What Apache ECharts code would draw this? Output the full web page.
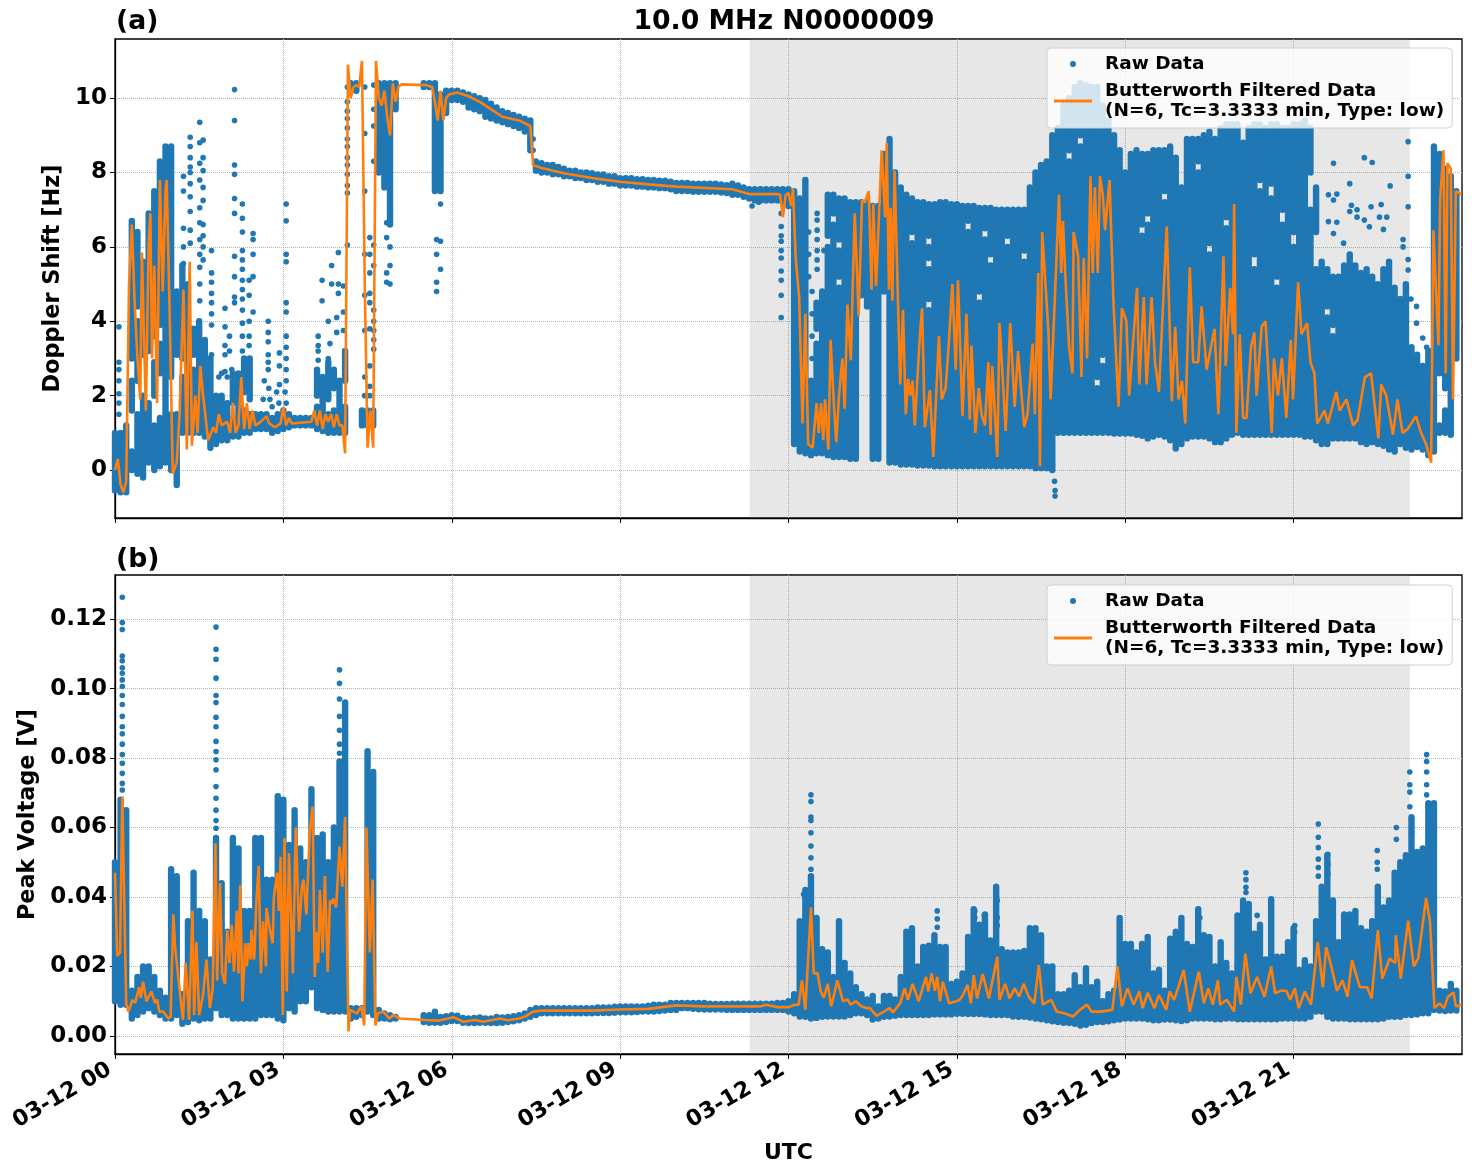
<!DOCTYPE html>
<html>
<head>
<meta charset="utf-8">
<title>10.0 MHz N0000009</title>
<script src="https://cdn.jsdelivr.net/npm/echarts@6/dist/echarts.min.js"></script>
<style>html,body{margin:0;padding:0;background:#fff}#chart{width:1472px;height:1172px}</style>
</head>
<body>
<div id="chart"></div>
<script>
// Axis ticks
const xTickHours = [0, 3, 6, 9, 12, 15, 18, 21];
const xTickLabels = ['03-12 00', '03-12 03', '03-12 06', '03-12 09', '03-12 12', '03-12 15', '03-12 18', '03-12 21'];
const dopplerTicks = [0, 2, 4, 6, 8, 10];
const voltageTicks = [0, 0.02, 0.04, 0.06, 0.08, 0.1, 0.12];
const nightStart = 11.31, nightEnd = 23.07;

// Extent of the dense raw cloud in six-minute columns (Hz); null = no samples
const dopplerLow = [
-.55,-.6,-.6,0,-.1,-.2,.2,0,.1,.2, 0,-.4,1,1,1,1,.9,.6,.7,.8,
.8,.9,.9,1,1,1.1,1.1,1.1,1,1.05, 1.1,1.15,1.2,1.2,1.2,1.2,1.1,1.05,1,1,
1,1,10.2,10.2,1.2,1.2,1.2,8,7.6,6.6, 9.7,null,null,null,null,10.3,10.3,7.5,7.5,9.6,
9.95,9.95,9.9,9.75,9.7,9.65,9.5,9.45,9.4,9.35, 9.3,9.25,9.2,9.1,8.6,8.05,8,8,7.95,7.95,
7.9,7.9,7.85,7.85,7.8,7.8,7.75,7.75,7.7,7.7, 7.65,7.65,7.65,7.62,7.62,7.6,7.6,7.58,7.58,7.55,
7.5,7.5,7.5,7.48,7.48,7.48,7.48,7.48,7.46,7.45, 7.4,7.4,7.35,7.3,7.25,7.25,7.25,7.25,7.25,7.2,
7.1,.7,.5,.45,.4,.45,.45,.4,.35,.35, .35,.3,.3,4.7,4.4,.3,.3,4.8,.2,.2,
.15,.15,.15,.12,.12,.12,.1,.1,.1,.1, .1,.1,.1,.1,.1,.1,.1,.1,.1,.1,
.1,.1,.1,.1,.05,.05,.05,0,1,1, 1,1,1,1,1,1,1,1,.98,.98,
.98,.98,.95,.92,.85,.9,.95,.9,.8,.58, .7,.85,.9,.9,.9,.85,.75,.75,.85,.95,
1,.95,.95,.95,.95,.95,.95,.95,.95,.95, .95,.95,.9,.9,.8,.7,.7,.85,.85,.85,
.85,.85,.75,.7,.75,.7,.65,.55,.5,.7, .6,.55,.62,.55,.4,.5,1,1,.95,3
];
const dopplerHigh = [
1,1,1.2,6.7,6.4,5.6,6.9,7.5,8.3,8.7, 8.7,4.8,5.5,5,3.8,4,3.5,3,2,2,
1.8,2.6,2.6,3,3,1.5,1.5,1.5,1.4,1.5, 1.6,1.5,1.4,1.4,1.4,1.4,2.7,2.5,2.9,2.7,
2.4,3.2,10.4,10.4,1.6,1.6,1.6,10.4,10.4,10.4, 10.4,null,null,null,null,10.4,10.4,10.4,10.1,10.2,
10.2,10.2,10.15,10.1,10.05,10,9.95,9.85,9.75,9.65, 9.6,9.55,9.5,9.45,9.4,8.3,8.25,8.2,8.2,8.15,
8.1,8.05,8.05,8,8,7.98,7.95,7.95,7.9,7.9, 7.85,7.85,7.85,7.82,7.82,7.8,7.8,7.78,7.78,7.75,
7.72,7.72,7.72,7.7,7.7,7.7,7.7,7.7,7.68,7.66, 7.7,7.65,7.6,7.55,7.55,7.55,7.55,7.55,7.55,7.55,
7.55,7.5,7.3,7.8,2.4,4.5,4.8,7.4,7.4,7.3, 7.3,7.2,7.2,7.2,7.2,7.1,7.1,8.5,8.9,8,
7.6,7.4,7.3,7.2,7.2,7.15,7.15,7.2,7.2,7.15, 7.15,7.1,7.1,7.1,7.05,7.05,7.05,7,7,7,
7,7,7,7.6,8,8.2,8.3,9,9.2,9.8, 10,10.3,10.4,10.35,10.3,10.3,9.8,9.4,9,8.6,
8,8.5,8.6,8.5,8.5,8.6,8.6,8.6,8.7,8.4, 7.6,8.9,8.9,8.9,9,9.1,8.9,9.2,9.3,9.3,
9.3,8.8,9.2,9.3,9.3,9.2,9.3,9.3,9.2,9.2, 9.3,9.3,9.4,9.2,7.6,5.6,5.4,5.2,5.2,5.5,
5.8,5.5,5.3,5.4,5.2,5,5.4,5.6,4.9,4.6, 5,3.3,3.1,2.8,3.2,8.7,8.5,8.1,7.9,7.5
];
// Columns with an empty stretch inside the cloud: [tenths of an hour, from, to]
const dopplerGaps = [
[3,.5,1.6],[3,2.4,3],[4,1.5,2.4],[4,4,4.4],[5,2,3.1],[6,1.8,3.2],[7,1.2,2],[7,2.9,3.6],[8,1.4,2.6],[8,3.4,3.9],
[10,1.5,2.5],[11,1.5,3.1],[12,2.5,3],[14,2.7,3.1],[125,3.4,3.8],[129,5.9,6.2],[129,4.9,5.2],[128,6.6,6.9],[142,6.1,6.4],
[145,6,6.3],[145,5.4,5.7],[145,4.3,4.6],[152,6.4,6.7],[155,6.2,6.5],[156,5.5,5.8],[154,4.5,4.8],[162,5.6,5.9],[159,6,6.3],
[172,8.7,9],[170,8.3,8.6],[175,2.2,2.5],[176,2.8,3.1],[193,8,8.3],[187,7.2,7.5],[184,6.6,6.9],[183,6.3,6.6],[201,6,9],
[206,7.3,7.7],[204,7.5,7.8],[208,6.6,7],[207,4.9,5.2],[217,3.6,3.9],[216,4.1,4.4],[214,5.4,6.4],[213,7,8],[195,5.8,6.1],
[198,6.5,6.8],[203,5.4,5.8],[210,6,6.4],[236,1.2,2.6],[237,1.6,2.2],[127,6,6.3],[124,2.6,3.1],[134,1,1.4],[133,1.6,2],
[23,1.6,2.1],[24,1.5,1.9],[36,1.7,2],[38,1.5,1.9],[39,1.6,2.2],[41,1.7,2.4],[21,1.4,1.8]
];

// Isolated raw samples outside the cloud: [hour, Hz]
const dopplerDots = [
[2.13,10.23],[2.13,9.4],[2.13,8.2],[2.13,7.95],[2.13,7.3],[2.13,6.9],[2.13,5.75],[2.13,5.2],[2.13,4.65],[2.13,4.5],
[2.27,7.15],[2.27,6.77],[2.27,6.4],[2.27,5.9],[2.27,5.65],[2.27,5.4],[2.27,5.1],[2.27,4.85],[2.27,4.6],[2.27,4.3],[2.27,3.95],[2.27,3.6],[2.27,3.2],
[2.46,6.36],[2.46,6.2],[2.46,5.8],[2.46,5.2],[2.46,4.25],[2.39,5.1],[2.39,4.7],[2.39,4],[2.39,3.6],[2.39,3.35],
[2.73,4],[2.73,3.7],[2.73,3.45],[2.73,3.1],[2.73,2.9],[2.73,2.7],[2.93,3.15],[2.93,2.8],[2.93,2.3],
[2.64,1.9],[2.66,2.4],[2.74,2.2],[2.76,1.9],[2.8,1.7],[2.88,2.1],[2.92,1.8],
[3.05,7.15],[3.05,6.7],[3.05,5.8],[3.05,5.6],[3.05,4.5],[3.05,4.25],[3.05,3.6],[3.05,3.3],[3.05,3],[3.05,2.7],[3.05,2.4],[3.03,2.1],[3.05,1.8],
[1.96,4.35],[1.96,3.85],[1.96,3.35],[1.96,3.1],[1.96,2.65],[2.04,3.6],[2.04,3.2],[1.9,2.6],[1.85,2.5],[2,2.5],[2.08,2.7],
[1.72,5.9],[1.72,5.3],[1.72,5.05],[1.72,4.75],[1.72,4.5],[1.72,4.2],[1.72,3.9],[1.72,3.1],
[1.57,8.87],[1.57,8.4],[1.57,8.05],[1.57,7.6],[1.57,7.25],[1.57,6.6],[1.57,6.3],[1.57,6],[1.57,5.65],
[1.51,9.35],[1.51,8.8],[1.51,8.25],[1.51,7.8],[1.51,7.05],[1.51,6.65],[1.51,6.2],[1.51,5.8],[1.51,5.45],[1.51,5],[1.51,4.55],
[1.34,8.95],[1.34,8.7],[1.34,8.4],[1.34,8.15],[1.34,8],[1.34,7.7],[1.34,7.35],[1.34,6.95],[1.34,6.45],[1.34,6.1],
[1.22,7.9],[1.22,7.5],[1.22,6.5],[1.22,6],[1.22,5.55],
[.07,3.85],[.07,2.9],[.07,2.7],[.07,2.4],[.07,2.05],[.07,1.8],[.07,1.5],
[3.62,3.6],[3.62,3.35],[3.62,3.2],[3.62,2.95],[3.69,5.1],[3.69,4.55],[3.86,5.5],[3.86,5],[3.98,5.85],[3.98,5],[3.98,4.75],
[4.07,4.95],[4.07,4.25],[4.07,3.75],[3.8,4],[3.8,3],[3.95,4.1],[3.95,3.7],[3.83,3.4],
[4.14,10.3],[4.14,9.9],[4.14,9.65],[4.14,9.45],[4.14,9.2],[4.14,8.9],[4.14,8.7],[4.14,8.4],[4.14,8.2],[4.14,7.95],[4.14,7.65],[4.14,7.45],[4.14,6.05],
[4.45,10.3],[4.45,9.05],[4.45,7.5],[4.45,5.8],[4.45,4.7],[4.45,3.75],[4.45,2.5],[4.45,2],
[4.54,6.25],[4.54,5.8],[4.54,5.3],[4.54,4.75],[4.54,4.5],[4.54,3.8],[4.54,2.8],[4.54,2.25],[4.54,2],
[4.61,6.05],[4.61,5.5],[4.61,4.3],[4.61,4],[4.61,3.75],[4.61,3.5],[4.61,3.25],[4.61,9.25],[4.61,8.3],[4.61,9.7],[4.61,10.35],
[4.84,5.3],[4.84,5.05],[4.84,6.65],[4.84,6.25],[4.9,5.5],[4.9,5],[4.9,6],
[5.73,6.2],[5.73,5.8],[5.73,5.05],[5.73,4.8],[5.8,6.15],[5.8,5.4],[5.8,7.15],
[7.45,8.9],[7.45,8.6],[11.35,7.1],[11.47,7.2],
[11.87,6.9],[11.87,6.55],[11.87,6.3],[11.87,6.15],[11.87,5.9],[11.87,5.7],[11.87,5.35],[11.87,5.1],[11.87,4.7],[11.87,4.1],
[12.51,6.9],[12.51,6.72],[12.51,6.45],[12.51,6.2],[12.51,5.9],[12.51,5.65],[12.51,5.4],[12.63,5.9],
[12.42,3],[12.42,3.6],[12.42,4.2],[12.42,4.8],[12.36,5.2],[12.36,5.8],[12.36,6.4],
[16.75,-.55],[16.75,-.7],[16.74,-.3],
[23.04,8.83],[23.04,7.9],[23.04,7.08],[21.71,8.25],[22.26,8.4],[22.4,8.27],[22,7.7],[22.72,7.64],[21.62,7.4],[21.77,7.42],[21.71,7.26],
[22.03,7.12],[22,6.95],[22.13,7],[22.13,6.8],[22.38,7.08],[22.26,6.72],[22.35,6.54],[22.56,7.14],[22.53,6.8],[22.66,6.8],[21.62,6.68],
[21.77,6.66],[21.71,6.36],[21.89,6.1],[22.6,6.47],[22.95,6.2],[22.95,6],[23.04,5.66],[23.04,5.38],[23.09,4.6],[23.19,4.4],[23.19,3.95],[23.3,3.55],[23.37,3.3]
];

// Low-pass filtered Doppler trace: [hour, Hz]
const dopplerFiltered = [
[0,0],[.05,.3],[.1,-.4],[.15,-.6],[.2,-.3],[.25,5],[.3,6.6],[.35,4.5],[.4,3],[.45,1.9],[.48,5.85],[.55,1.6],[.6,6.1],[.63,6.9],[.66,3],[.7,5.5],[.75,1.8],[.8,7.8],[.85,4.8],[.9,7.5],[.92,7.8],[.97,4.5],[1.03,-.1],[1.1,.2],[1.15,1.5],[1.22,4.85],[1.28,.55],[1.33,5.6],[1.37,.65],[1.43,2],[1.47,1],[1.52,2.8],[1.57,2],[1.66,.8],[1.75,1.15],[1.8,1],[1.85,1.5],[1.9,1.2],[2,1.3],[2.05,1],[2.1,1.8],[2.15,1],[2.2,1.2],[2.25,2.5],[2.3,1.1],[2.35,1.8],[2.4,1.1],[2.45,1.6],[2.5,1.2],[2.6,1.3],[2.7,1.45],[2.75,1.25],[2.85,1.15],[2.95,1.25],[3,1.7],[3.05,1.2],[3.1,1.4],[3.15,1.25],[3.5,1.3],[3.55,1.6],[3.6,1.2],[3.65,1.6],[3.7,1.1],[3.75,1.5],[3.8,1.3],[3.85,1.5],[3.9,1.15],[3.95,1.5],[4,1.2],[4.05,1.2],[4.1,.45],[4.15,10.9],[4.2,10],[4.25,10.3],[4.3,10.35],[4.35,10.3],[4.4,11],[4.45,5],[4.5,.6],[4.55,1.6],[4.6,.6],[4.65,11],[4.7,10],[4.75,9.8],[4.8,10.2],[4.85,9.5],[4.9,9],[4.95,10.4],[5,9.9],[5.05,10.3],[5.1,10.37],[5.55,10.35],[5.65,10.3],[5.7,9.9],[5.75,9.4],[5.8,10.2],[5.85,9.4],[5.9,10],[5.95,10.1],[6.1,10.15],[6.3,10.05],[6.5,9.9],[6.75,9.65],[6.9,9.5],[7.2,9.4],[7.4,9.25],[7.45,8.2],[7.6,8.12],[8,7.98],[8.5,7.85],[9,7.75],[9.5,7.68],[10,7.62],[11,7.55],[11.3,7.42],[11.8,7.42],[11.85,7.4],[11.9,6.8],[11.95,7.4],[12,7.45],[12.05,7.1],
[12.08,7.57],[12.13,5.65],[12.19,4.65],[12.25,1.25],[12.3,4.2],[12.35,.7],[12.43,.6],[12.5,1.8],[12.54,1],[12.58,1.8],[12.62,.8],[12.65,1.9],[12.71,.55],[12.75,3.5],[12.8,2],[12.85,.75],[12.9,2],[12.96,3],[13,1.65],[13.05,4.45],[13.11,2.95],[13.18,6.9],[13.25,4.15],[13.31,7.25],[13.36,7.2],[13.43,7.5],[13.48,4.85],[13.51,7.15],[13.56,4.95],[13.66,8.6],[13.72,6.8],[13.75,8.8],[13.79,4.85],[13.82,7.05],[13.85,4.55],[13.89,8.05],[13.99,2.3],[14.04,4.3],[14.09,1.5],[14.13,2.45],[14.17,2],[14.21,2.4],[14.25,1.2],[14.34,3.6],[14.38,4.35],[14.43,1.15],[14.52,2.15],[14.58,.35],[14.68,3.6],[14.73,1.9],[14.8,2.2],[14.86,3.5],[14.92,5],[14.98,2.7],[15.02,5.1],[15.1,1.45],[15.17,4.2],[15.23,1.35],[15.26,3.35],[15.33,1],[15.39,2.2],[15.44,1.5],[15.5,1.2],[15.56,2.9],[15.6,.95],[15.63,2.8],[15.72,.35],[15.76,3.95],[15.87,1.05],[15.95,3.95],[16.03,1.7],[16.09,3.2],[16.2,1.15],[16.26,1.5],[16.35,3.4],[16.39,1.5],[16.45,5.3],[16.48,.1],[16.52,6.4],[16.63,3.75],[16.67,1.9],[16.74,4.4],[16.82,7.4],[16.86,5.3],[16.89,6.7],[16.93,5.3],[17,3.3],[17.06,2.6],
[17.08,6.4],[17.16,5.75],[17.22,2.5],[17.26,5.7],[17.32,3],[17.38,7.9],[17.42,5.3],[17.46,7.6],[17.51,5.3],[17.55,7.9],[17.6,7.4],[17.64,6.45],[17.72,7.8],[17.79,4.5],[17.88,1.7],[17.94,4.35],[18.02,4],[18.07,2],[18.21,4.9],[18.25,2.3],[18.33,4.65],[18.38,2.3],[18.47,4.65],[18.53,2.9],[18.6,2.1],[18.74,6.55],[18.83,1.85],[18.89,3.85],[18.95,1.9],[19.01,2.4],[19.07,1.25],[19.15,5.45],[19.21,2.9],[19.3,2.9],[19.36,4.4],[19.45,2.7],[19.59,3.8],[19.66,1.5],[19.75,5.75],[19.79,2.8],[19.87,4.9],[19.92,3.65],[19.94,7.15],[19.98,1],[20.04,3.65],[20.1,1.4],[20.16,1.4],[20.24,3.3],[20.3,3.7],[20.34,2],[20.43,3.85],[20.5,4],[20.61,1],[20.65,3],[20.72,2],[20.79,3],[20.87,1.4],[20.95,3.5],[20.99,1.9],[21.08,5.05],[21.14,3.65],[21.24,3.95],[21.3,2.9],[21.37,2.6],[21.42,1.25],[21.55,1.6],[21.61,1.25],[21.76,2.1],[21.82,1.6],[21.94,1.9],[22.06,1.2],[22.14,1.35],[22.27,2.5],[22.38,2.6],[22.51,.85],[22.56,2.3],[22.65,2],[22.77,.95],[22.85,1.9],[22.94,1],[23.03,1.1],[23.18,1.45],[23.27,1],[23.36,.7],[23.45,.2],[23.49,6.45],[23.58,3.35],[23.61,7.25],[23.67,8.6],[23.71,2.6],[23.74,8.25],[23.8,8.1],[23.84,1.9],[23.89,7.5],[23.95,7.45],[23.99,7.4]
];

// Extent of the dense raw voltage cloud in six-minute columns (mV); null = no samples
const voltageLow = [
10,9,9,5,6,7,8,7,6,5, 5,6,3.5,4,5,4.5,5,5,8,6, 6,5,5,5,5,5,6,6,6,5, 4.5,8,7,10,10,14,8,7.5,7,7,
7,7,5,5.5,6,7,6,5,5,4.8, 5,null,null,null,null,4,3.8,3.8,3.8,4, 4.3,4.3,3.8,3.7,3.7,3.8,3.8,3.7,3.7,3.8, 4,4.2,4.5,5,5.5,6,6.5,6.5,6.5,6.5,
6.5,6.5,6.5,6.5,6.5,6.5,6.6,6.6,6.6,6.7, 6.8,6.8,6.8,6.9,7,7,7,7.2,7.3,7.5, 7.5,8,8,7.8,7.7,7.6,7.6,7.6,7.6,7.5, 7.5,7.5,7.5,7.5,7.5,7.5,7.5,7.5,7.5,7.5,
7,6.5,5.6,5.5,5,5.2,5.5,5.6,5.6,5.6, 5.6,6,6.5,6.5,6,4.7,5,5.5,5.6,5.8, 6,6,6,6,6,6,6.2,6.2,6.2,6.2, 6.4,6.4,6.3,6.3,6.3,6.2,6,6,6,6,
5.6,5.5,5.5,5.3,5,4.8,4.5,4.2,4,3.8, 3.7,3.5,3,3.2,3.7,4,4,4.2,4.5,4.7, 5,5,5,5,4.8,4.5,4.5,4.7,4.7,4.5, 4.3,4.5,5,5,5,5,4.8,4.8,5,5,
4.8,4.8,4.8,4.8,4.8,4.8,4.8,4.8,5,5, 5,5,5,5.5,7,7,5.5,5,5,5, 4.8,4.8,4.8,4.8,4.8,4.8,5,5.5,5.5,5.5, 6,6,6.2,6.5,6.5,7.5,7.3,7.2,7.3,7.3
];
const voltageHigh = [
50,68,65,13,17,20,20,17,13,11, 48,46,12,33,47,36,33,22,57,44, 30,57,54,36,36,57,57,45,45,69, 68,55,65,54,50,71,57,58,50,60,
79,96,8,8,8,82,76,7.5,6.5,6, 5.5,null,null,null,null,6,6,7,5.5,5.7, 6,5.8,5.2,5,5.2,5.3,5,5,5.5,5.3, 5.5,5.7,6,6.5,7.5,8,8,8,8,8,
8,8,8,8,8,8,8.2,8.2,8.2,8.4, 8.5,8.5,8.5,8.5,8.5,8.7,9,9,9,9.5, 9.5,9.5,9.5,9.5,9.5,9.5,9.3,9.2,9.2,9.2, 9.3,9.3,9.3,9.3,9.3,9.3,9.3,9.3,9.5,9.5,
10,12,33,42,46,34,25,24,17,33, 21,18,14,12,10.5,11.5,8.5,11.5,11.5,10.5, 17,30,31,20,25.6,26,29,25.6,25.6,15, 15.6,18,28.5,36.5,32,35,27.5,43,25,24,
24,24,24.5,31,31,29,20,20,12,12, 13,17.5,14,19.5,14,15.6,10,12,13,34, 26.5,26.5,24,26.5,28.5,18,19,13,28,30, 34,26.5,25.6,36.5,29,28.5,20,27,21,18,
34.7,39,38,29.4,32,22,39.4,22.8,22.8,27, 31,19,21.8,20,33,43,52,39,27,35, 35,36,31,30,33,43,37,39,47,50, 52,63,53,54,67,67,13,12.8,15,13
];

// Isolated raw voltage samples above the cloud: [hour, mV]
const voltageDots = [
[.13,126.3],[.13,119],[.13,117],[.13,109.4],[.13,108],[.13,106],[.13,104.4],[.13,102.5],[.13,100.6],[.13,98],[.13,95.4],[.13,92],[.13,89],[.13,87],[.13,84],[.13,81],[.13,78.5],[.13,75.6],[.13,72.7],[.13,70.8],
[1.8,117.7],[1.8,111.3],[1.8,108.4],[1.8,103],[1.8,98],[1.8,96],[1.8,91.7],[1.8,89],[1.8,84.8],[1.8,81.9],[1.8,79.5],[1.8,76.6],[1.8,71.8],[1.8,68.4],[1.8,65],[1.8,62],[1.8,59.8],
[4,105.4],[4,101.5],[4,97],[4,92],[4,88],[4,84],[4,81.4],
[12.4,69.4],[12.4,67.5],[12.4,63],[12.4,62],[12.4,58.5],[12.4,54.7],[12.4,51.3],[12.4,48],[12.27,40.8],
[14.65,36],[14.65,33.7],[14.65,31.3],[15.32,36],[15.32,34],[15.49,34.7],[15.72,39],[15.72,34],[15.72,31.8],[16.36,30.6],
[19.33,34],[20.15,47],[20.15,45],[20.15,42.8],[20.15,41.3],[20.35,34.7],[21.02,31.8],[21.02,30],
[21.44,61],[21.44,57.2],[21.44,54.2],[21.44,50.9],[21.44,48.5],[21.44,46],[21.61,52.3],[21.61,49.4],[21.61,46.6],
[22.49,53.4],[22.49,50],[22.49,48],[22.83,60],[22.83,56.6],[23.07,76],[23.07,72.3],[23.07,70.2],[23.07,66],[23.1,62.3],[23.1,58.5],
[23.37,81],[23.37,79],[23.37,76],[23.37,72.3],[23.37,69.4]
];

// Low-pass filtered voltage trace: [hour, mV]
const voltageFiltered = [
[0,47],[.04,23],[.09,24],[.13,69],[.16,43],[.2,9.4],[.24,7],[.27,7],[.31,10.4],[.36,9.5],[.43,14],[.46,11],[.5,15.6],[.56,10],[.65,12.8],[.71,9.5],[.75,10.5],[.79,7],[.86,7],[.95,5],[.99,5.5],[1.04,35],[1.07,25.7],[1.1,25.7],[1.16,11.8],[1.21,4.6],[1.26,21],[1.32,4.6],[1.38,36],[1.41,6],[1.45,27],[1.5,6],[1.57,12],[1.63,22],[1.69,8],[1.74,13.5],[1.79,55.5],[1.82,16],[1.87,44],[1.91,18],[1.96,15],[2,30.5],[2.04,21],[2.08,32],[2.12,18.5],[2.17,36],[2.2,18],[2.23,43.5],[2.27,10],[2.32,26.7],[2.35,20],[2.38,26.7],[2.42,22],[2.43,30.5],[2.48,22],[2.52,39],[2.56,49],[2.6,18],[2.64,33],[2.69,20],[2.7,36.8],[2.76,30.5],[2.81,26.7],[2.83,40],[2.89,47],[2.92,36],[2.95,51.6],[2.99,6],[3.02,57],[3.06,12.8],[3.1,52.6],[3.17,18],[3.22,60],[3.28,30],[3.33,43],[3.36,45],[3.41,35],[3.47,59],[3.52,66],[3.56,17],[3.59,30],[3.62,21],[3.65,42],[3.7,24],[3.74,46],[3.79,18.5],[3.83,39],[3.86,38],[3.89,39.5],[3.94,37],[4,54.5],[4.05,43],[4.1,63],[4.16,1.3],[4.19,7.5],[4.31,6.5],[4.39,8.5],[4.44,3],[4.48,60],[4.54,24],[4.59,45],[4.64,3],[4.68,6.5],[4.78,7],[4.89,5],[4.96,6],[5.08,5],[5.52,4.6],[5.76,4.4],[6.03,5.4],[6.21,4.1],[6.41,4.6],[6.56,4.1],[6.86,5],[7,4.5],[7.2,5],[7.3,5.5],[7.45,7],[7.6,7.3],[8,7.3],[8.5,7.3],[9,7.6],[9.5,7.8],[10,8.8],[10.5,8.5],[11,8.5],[11.3,8.5],[11.5,8.5],[11.6,9],[11.8,8.3],[12,8.3],
[12.12,9],[12.18,9],[12.24,16],[12.3,7.5],[12.4,37],[12.45,18],[12.52,18],[12.57,13],[12.63,11],[12.7,15],[12.76,8.5],[12.82,12.4],[12.87,16],[12.97,10],[13.05,10.5],[13.11,9],[13.2,10],[13.3,8.5],[13.41,8],[13.45,8],[13.57,5.8],[13.7,7],[13.8,8],[13.86,6.8],[13.99,9.4],[14.07,13.7],[14.13,10.4],[14.21,15],[14.32,10],[14.45,17],[14.49,12.8],[14.55,18],[14.61,13],[14.65,17],[14.7,10],[14.75,15.6],[14.86,9.4],[14.99,10],[15.05,10.4],[15.11,11.8],[15.19,14.7],[15.25,9.4],[15.3,17.5],[15.36,10.8],[15.46,17.8],[15.57,10.8],[15.72,22.8],[15.76,10.4],[15.86,15],[15.94,10.8],[16.03,13.7],[16.11,11.3],[16.19,15],[16.28,11.3],[16.38,9.4],[16.46,20.4],[16.53,9],[16.68,10.4],[16.78,7],[16.9,6.6],[17.07,5.6],[17.19,7.5],[17.32,9],[17.4,7],[17.57,7],[17.77,7.5],[17.86,20],[17.94,8.5],[18.04,13.7],[18.15,9],[18.25,12.8],[18.31,8],[18.4,12.4],[18.52,8],[18.6,11.8],[18.73,7.5],[18.79,12.8],[18.87,10.4],[18.96,14.7],[19.04,19],[19.15,7],[19.31,18.5],[19.4,9.4],[19.48,13.7],[19.56,9],[19.65,16],[19.69,9],[19.81,10.4],[19.94,7],[19.98,17],[20.06,9],[20.14,23.7],[20.23,12.3],[20.35,17],[20.48,11.3],[20.6,20],[20.67,12.3],[20.77,13],[20.87,13],[20.94,10.4],[21.02,13.7],[21.09,8],[21.2,12.8],[21.31,9],[21.43,27],[21.52,14],[21.58,25.6],[21.68,19.5],[21.77,13],[21.87,16],[21.96,11.3],[22.04,21.8],[22.18,14],[22.31,14],[22.39,10.8],[22.5,30.4],[22.58,16.5],[22.71,22.3],[22.81,21],[22.82,29],[22.91,16.5],[23.04,33.2],[23.14,20],[23.22,22.3],[23.36,39.7],[23.43,33],[23.51,8],[23.6,9.4],[23.68,8],[23.75,11.3],[23.85,12.5],[23.89,8.5],[23.99,9]
];

const BLUE = '#1f77b4', ORANGE = '#ff7f0e', FONT = 'DejaVu Sans';
const RAW = 'Raw Data';
const FILTERED = 'Butterworth Filtered Data\n(N=6, Tc=3.3333 min, Type: low)';
const toVolts = v => v / 1000;

// Turn column extents into drawable stretches, leaving out the empty parts.
function cloudSegments(low, high, gaps, scale) {
  const out = [];
  low.forEach((lo, i) => {
    if (lo === null) return;
    const hi = high[i];
    let from = lo;
    gaps.filter(g => g[0] === i).sort((a, b) => a[1] - b[1]).forEach(g => {
      if (g[1] > from && g[2] < hi) { out.push([i / 10, scale(from), scale(g[1])]); from = g[2]; }
    });
    out.push([i / 10, scale(from), scale(hi)]);
  });
  return out;
}

function renderCloud(params, api) {
  const a = api.coord([api.value(0), api.value(1)]);
  const b = api.coord([api.value(0), api.value(2)]);
  return { type: 'line', shape: { x1: a[0], y1: a[1], x2: b[0], y2: b[1] },
           style: { stroke: BLUE, lineWidth: 6.4, lineCap: 'round', fill: null } };
}

function panelSeries(idx, segments, dots, trace) {
  return [
    { type: 'custom', name: 'cloud' + idx, xAxisIndex: idx, yAxisIndex: idx, z: 2, renderItem: renderCloud,
      data: segments, encode: { x: 0, y: [1, 2] }, silent: true, animation: false,
      markArea: { silent: true, itemStyle: { color: 'rgba(128,128,128,0.19)' },
                  data: [[{ xAxis: nightStart }, { xAxis: nightEnd }]] } },
    { type: 'scatter', name: RAW, xAxisIndex: idx, yAxisIndex: idx, z: 2, data: dots,
      symbolSize: 5.6, itemStyle: { color: BLUE, opacity: 1 }, silent: true, animation: false },
    { type: 'line', name: FILTERED, xAxisIndex: idx, yAxisIndex: idx, z: 3, data: trace,
      symbol: 'none', lineStyle: { color: ORANGE, width: 2.6 }, itemStyle: { color: ORANGE },
      silent: true, animation: false, sampling: false }
  ];
}

function xAxis(gridIndex, withLabels, name) {
  return {
    type: 'value', gridIndex, min: 0, max: 24,
    name, nameLocation: 'middle', nameGap: 88,
    nameTextStyle: { fontFamily: FONT, fontWeight: 'bold', fontSize: 22, color: '#000' },
    axisLine: { onZero: false, lineStyle: { color: '#000', width: 1.3 } },
    axisTick: { show: true, length: 5, lineStyle: { color: '#000', width: 1 }, customValues: xTickHours },
    axisLabel: { show: withLabels, customValues: xTickHours, rotate: 30, margin: 11, color: '#000',
      fontFamily: FONT, fontWeight: 'bold', fontSize: 22.2, padding: [0, 6, 0, 0],
      formatter: v => xTickLabels[xTickHours.indexOf(v)] || '' },
    splitLine: { show: true, lineStyle: { color: '#b4b4b4', type: 'dotted', width: 1 } }
  };
}

function yAxis(gridIndex, min, max, ticks, name, nameGap, fmt) {
  return {
    type: 'value', gridIndex, min, max, name, nameLocation: 'middle', nameGap,
    nameTextStyle: { fontFamily: FONT, fontWeight: 'bold', fontSize: 22.4, color: '#000' },
    axisLine: { show: true, lineStyle: { color: '#000', width: 1.3 } },
    axisTick: { show: true, length: 5, lineStyle: { color: '#000', width: 1 }, customValues: ticks },
    axisLabel: { customValues: ticks, margin: 8, color: '#000', fontFamily: FONT, fontWeight: 'bold', fontSize: 23,
      verticalAlign: 'middle', padding: [6, 0, 0, 0], formatter: fmt },
    splitLine: { show: true, lineStyle: { color: '#b4b4b4', type: 'dotted', width: 1 } }
  };
}

function legend(top) {
  return {
    left: 1047, top, orient: 'vertical', z: 10, itemWidth: 38, itemHeight: 6, itemGap: 7,
    padding: [6, 8, 7, 7], backgroundColor: 'rgba(255,255,255,0.8)',
    borderColor: '#d0d0d0', borderWidth: 1, borderRadius: 4, selectedMode: false,
    textStyle: { fontFamily: FONT, fontWeight: 'bold', fontSize: 18.5, lineHeight: 20, color: '#000', padding: [0, 0, 0, 8] },
    data: [
      { name: RAW, icon: 'circle' },
      { name: FILTERED, icon: 'path://M0 0H38V3H0Z', itemStyle: { color: ORANGE } }
    ]
  };
}

const heading = (text, left, top, extra) => Object.assign({ text, left, top, padding: 0,
  textStyle: { fontFamily: FONT, fontWeight: 'bold', fontSize: 26.7, color: '#000' } }, extra);

const chart = echarts.init(document.getElementById('chart'), null, { renderer: 'canvas' });
chart.setOption({
  backgroundColor: '#fff',
  animation: false,
  title: [
    heading('(a)', 116, 9),
    heading('10.0 MHz N0000009', 784, 9, { textAlign: 'center' }),
    heading('(b)', 116, 547)
  ],
  legend: [legend(48), legend(585)],
  grid: [
    { left: 115, right: 10, top: 39, height: 479, show: true, borderColor: '#000', borderWidth: 1.3 },
    { left: 115, right: 10, top: 575, height: 479, show: true, borderColor: '#000', borderWidth: 1.3 }
  ],
  xAxis: [xAxis(0, false, ''), xAxis(1, true, 'UTC')],
  yAxis: [
    yAxis(0, -1.29, 11.59, dopplerTicks, 'Doppler Shift [Hz]', 47, v => String(v)),
    yAxis(1, -0.0052, 0.1327, voltageTicks, 'Peak Voltage [V]', 71, v => v.toFixed(2))
  ],
  series: [
    ...panelSeries(0, cloudSegments(dopplerLow, dopplerHigh, dopplerGaps, v => v), dopplerDots, dopplerFiltered),
    ...panelSeries(1, cloudSegments(voltageLow, voltageHigh, [], toVolts),
      voltageDots.map(p => [p[0], toVolts(p[1])]), voltageFiltered.map(p => [p[0], toVolts(p[1])]))
  ]
});
</script>
</body>
</html>
